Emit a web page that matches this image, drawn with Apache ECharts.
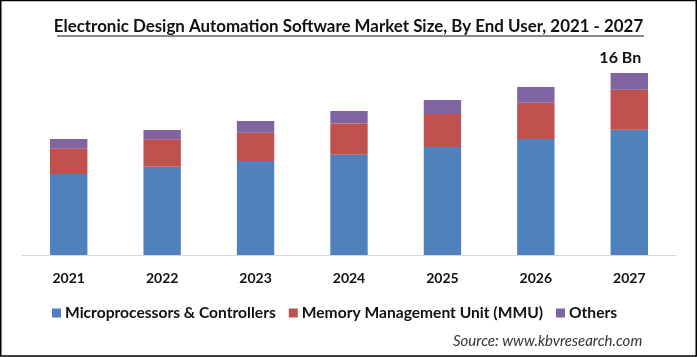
<!DOCTYPE html>
<html><head><meta charset="utf-8">
<script src="https://cdn.jsdelivr.net/npm/echarts@6/dist/echarts.min.js"></script>
<style>html,body{margin:0;padding:0;background:#fff}#c{width:697px;height:357px}</style>
</head><body><div id="c"></div>
<script>
var categories = ['2021','2022','2023','2024','2025','2026','2027'];
var microprocessors = [7.12, 7.76, 8.26, 8.82, 9.49, 10.20, 11.01];
var mmu = [2.26, 2.41, 2.49, 2.73, 2.90, 3.19, 3.52];
var others = [0.82, 0.82, 1.03, 1.12, 1.23, 1.38, 1.47];
var seriesNames = ['Microprocessors & Controllers', 'Memory Management Unit (MMU)', 'Others'];
var titleText = 'Electronic Design Automation Software Market Size, By End User, 2021 - 2027';
var totalLabel = '16 Bn';
var sourceText = 'Source: www.kbvresearch.com';

var chart = echarts.init(document.getElementById('c'));
var FONT = 'Lato, sans-serif';
chart.setOption({
  animation: false,
  color: ['#4F81BD', '#C0504D', '#8064A2'],
  title: {
    text: titleText, left: 'center', top: 18, padding: 0,
    textStyle: {fontFamily: FONT, fontSize: 16.9, fontWeight: 'bold', color: '#111'}
  },
  graphic: [
    {type: 'rect', shape: {x: 0.75, y: 0.5, width: 695.5, height: 355.5}, style: {fill: 'none', stroke: '#000', lineWidth: 1.5}},
    {type: 'line', shape: {x1: 57, y1: 36, x2: 644, y2: 36}, style: {stroke: '#111', lineWidth: 1}},
    {type: 'text', left: 453, top: 334, style: {text: sourceText, font: 'italic 15px ' + FONT, fill: '#333'}}
  ],
  legend: {
    left: 52, top: 305, itemWidth: 9, itemHeight: 9, itemGap: 13,
    icon: 'rect', padding: 0,
    textStyle: {fontFamily: FONT, fontSize: 15.6, fontWeight: 'bold', color: '#111', padding: [0,0,0,-1]},
    data: seriesNames
  },
  grid: {left: 22, right: 21, top: 27.5, height: 227.5},
  xAxis: {
    type: 'category', data: categories,
    axisLine: {lineStyle: {color: '#D9D9D9', width: 1}},
    axisTick: {show: false},
    axisLabel: {margin: 16, fontFamily: FONT, fontSize: 14, fontWeight: 'bold', color: '#111'}
  },
  yAxis: {type: 'value', min: 0, max: 20, show: false, splitLine: {show: false}},
  series: [
    {name: seriesNames[0], type: 'bar', stack: 's', barWidth: '40%', data: microprocessors},
    {name: seriesNames[1], type: 'bar', stack: 's', data: mmu},
    {name: seriesNames[2], type: 'bar', stack: 's', data: others,
     label: {show: true, position: 'top', distance: 7, offset: [-9, 0], fontFamily: FONT, fontSize: 16, fontWeight: 'bold', color: '#111',
       formatter: function(p){ return p.dataIndex === categories.length - 1 ? totalLabel : ''; }}}
  ]
});
</script></body></html>
